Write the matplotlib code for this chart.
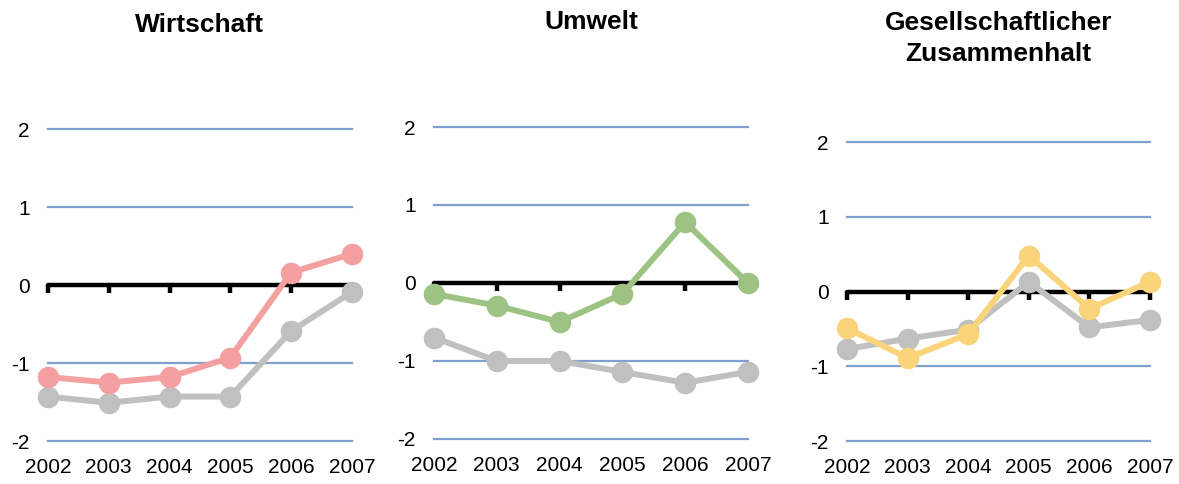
import numpy as np
import matplotlib.pyplot as plt

plt.rcParams['font.family'] = ['Liberation Sans', 'DejaVu Sans']

years = [2002, 2003, 2004, 2005, 2006, 2007]
gridvals = [-2, -1, 1, 2]

titles = ['Wirtschaft', 'Umwelt', 'Gesellschaftlicher\nZusammenhalt']

wirtschaft = [-1.18, -1.25, -1.18, -0.93, 0.16, 0.40]
wirtschaft_ref = [-1.43, -1.51, -1.43, -1.43, -0.59, -0.09]

umwelt = [-0.14, -0.29, -0.50, -0.14, 0.78, 0.0]
umwelt_ref = [-0.70, -1.0, -1.0, -1.14, -1.28, -1.14]

gesellschaft = [-0.49, -0.89, -0.57, 0.48, -0.23, 0.13]
gesellschaft_ref = [-0.77, -0.63, -0.51, 0.13, -0.48, -0.38]

series = [wirtschaft, umwelt, gesellschaft]
refs = [wirtschaft_ref, umwelt_ref, gesellschaft_ref]
colors = ['#f4a0a1', '#9dc384', '#f9d47a']
grey = '#c0c0c0'
gridcol = '#7f9fcf'

# axes boxes in figure fractions
boxes = [[0.0407, 0.0888, 0.2578, 0.6446],
         [0.3681, 0.0930, 0.2663, 0.6446],
         [0.7184, 0.0888, 0.2570, 0.6178]]
title_y = [1.333, 1.335, 1.346]

fig = plt.figure(figsize=(11.79, 4.84), dpi=100)

for i in range(3):
    ax = fig.add_axes(boxes[i])
    ax.set_xlim(2002, 2007)
    ax.set_ylim(-2, 2)

    for g in gridvals:
        ax.axhline(g, color=gridcol, lw=1.6, zorder=1, clip_on=False)
    ax.axhline(0, color='black', lw=3.2, zorder=2, solid_capstyle='round', clip_on=False)
    # little tick marks below the zero line
    ax.plot(years, [0] * len(years), ls='none', marker=3, ms=6, mew=3.2,
            color='black', zorder=2, clip_on=False)

    ax.plot(years, refs[i], color=grey, lw=4.3, marker='o', ms=14.5,
            zorder=3, clip_on=False)
    ax.plot(years, series[i], color=colors[i], lw=4.3, marker='o', ms=14.5,
            zorder=4, clip_on=False)

    for s in ax.spines.values():
        s.set_visible(False)
    ax.set_xticks(years)
    ax.set_xticklabels([str(y) for y in years])
    ax.set_yticks([-2, -1, 0, 1, 2])
    ax.set_yticklabels(['-2', '-1', '0', '1', '2'])
    ax.tick_params(axis='x', length=0, pad=12, labelsize=15)
    ax.tick_params(axis='y', length=0, pad=13, labelsize=15)

    ax.text(0.5, title_y[i], titles[i], transform=ax.transAxes, ha='center',
            va='center', fontsize=19, fontweight='bold', linespacing=1.4)

fig.savefig('out.png', dpi=100)
